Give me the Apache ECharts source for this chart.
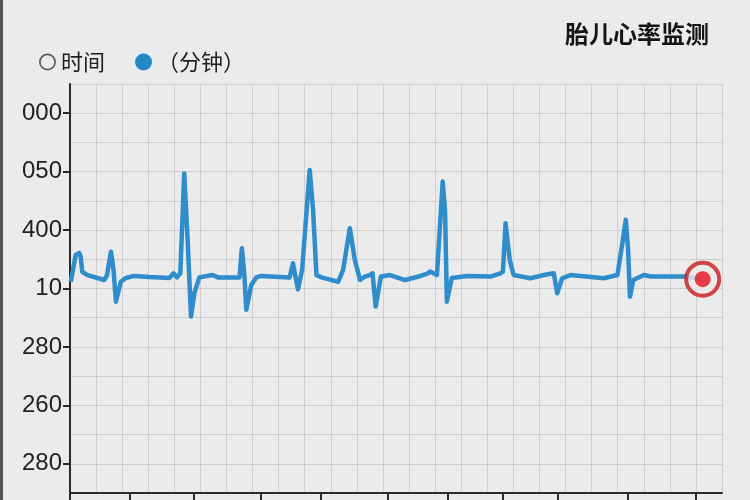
<!DOCTYPE html>
<html>
<head>
<meta charset="utf-8">
<script src="https://cdn.jsdelivr.net/npm/echarts@6/dist/echarts.min.js"></script>
<style>
html,body{margin:0;padding:0;background:#ebebeb;}
#c{width:750px;height:500px;}
</style>
</head>
<body>
<div id="c"></div>
<script>
// ECG trace (time units, signal units)
const ecgTime = [0.03,0.22,0.35,0.41,0.47,0.67,1.05,1.31,1.42,1.57,1.67,1.76,1.95,2.14,2.46,3.04,
  3.81,3.97,4.10,4.23,4.38,4.51,4.64,4.77,4.96,5.47,5.67,6.50,6.59,6.69,6.76,6.95,7.14,7.33,
  8.42,8.55,8.74,8.90,9.19,9.32,9.45,9.64,10.28,10.47,10.73,10.92,11.12,11.31,11.50,11.60,11.72,
  11.92,12.27,12.85,13.36,13.73,13.81,14.07,14.29,14.38,14.45,14.64,15.22,16.12,16.50,16.60,16.70,
  16.86,17.01,17.65,18.17,18.55,18.68,18.87,19.19,20.47,20.99,21.18,21.31,21.40,21.47,21.60,22.01,
  22.27,23.55,24.26];
const ecgValue = [7.23,8.15,8.22,8.09,7.57,7.46,7.36,7.29,7.46,8.26,7.63,6.55,7.23,7.36,7.43,7.39,
  7.36,7.52,7.38,7.52,10.94,8.66,6.04,6.85,7.38,7.46,7.38,7.38,8.38,7.41,6.27,7.12,7.38,7.43,
  7.38,7.86,6.97,7.63,11.06,9.69,7.46,7.38,7.23,7.63,9.06,7.98,7.29,7.41,7.46,7.52,6.38,
  7.41,7.46,7.29,7.41,7.52,7.58,7.46,10.66,9.69,6.55,7.36,7.43,7.41,7.52,7.58,9.23,
  7.98,7.46,7.35,7.46,7.52,6.84,7.35,7.46,7.35,7.46,8.55,9.35,8.32,6.72,7.29,7.46,
  7.41,7.41,7.32];
const markerPoint = [24.26, 7.32];
const xTickValues = [0, 2.3, 4.73, 7.3, 9.6, 12.2, 14.5, 16.6, 18.7, 21.4, 24.0];
const yTickValues = [1, 3, 5, 7, 9, 11, 13];
const yTickLabels = ['280', '260', '280', '10', '400', '050', '000'];
const titleText = '胎儿心率监测';
const legendNames = ['时间', '（分钟）'];

const lineData = ecgTime.map((t, i) => [t, ecgValue[i]]);
const chart = echarts.init(document.getElementById('c'));
const font = "'Noto Sans CJK SC','Noto Sans',sans-serif";
const ringPath = 'path://M0,-10A10,10,0,1,1,0,10A10,10,0,1,1,0,-10ZM0,-8A8,8,0,1,0,0,8A8,8,0,1,0,0,-8Z';
const gridLine = { show: true, lineStyle: { color: '#cfcfcf', width: 1 } };
chart.setOption({
  backgroundColor: '#ebebeb',
  animation: false,
  textStyle: { fontFamily: font },
  title: {
    text: titleText, right: 36, top: 17,
    textStyle: { fontSize: 24, fontWeight: 'bold', color: '#151515', fontFamily: font }
  },
  legend: {
    left: 34, top: 46, itemWidth: 17, itemHeight: 17, itemGap: 30,
    textStyle: { fontSize: 22, color: '#1e1e1e', fontFamily: font },
    data: [
      { name: legendNames[0], icon: ringPath, itemStyle: { color: '#3a3a3a', borderWidth: 0 } },
      { name: legendNames[1], icon: 'circle', itemStyle: { color: '#2488c8' } }
    ]
  },
  graphic: [{ type: 'rect', left: 0, top: 0, shape: { width: 3, height: 500 }, style: { fill: '#555' } }],
  grid: { left: 70, right: 28, top: 84, bottom: 7 },
  xAxis: [{
    type: 'value', min: 0, max: 25, interval: 1,
    axisLine: { show: true, lineStyle: { color: '#2a2a2a', width: 2 } },
    axisTick: { show: true, customValues: xTickValues, length: 8, lineStyle: { color: '#2a2a2a', width: 2 } },
    axisLabel: { show: false },
    splitLine: { show: false }
  }, {
    type: 'value', min: 0, max: 25, interval: 1, position: 'bottom',
    axisLine: { show: false }, axisTick: { show: false }, axisLabel: { show: false },
    splitLine: gridLine
  }],
  yAxis: [{
    type: 'value', min: 0, max: 14, interval: 1,
    axisLine: { show: true, lineStyle: { color: '#2a2a2a', width: 2 } },
    axisTick: { show: true, customValues: yTickValues, length: 7, lineStyle: { color: '#2a2a2a', width: 2 } },
    axisLabel: {
      show: true, customValues: yTickValues, margin: 8,
      fontSize: 24, color: '#222', fontFamily: "'Liberation Sans','Noto Sans',sans-serif",
      formatter: v => yTickLabels[yTickValues.indexOf(Math.round(v))] || ''
    },
    splitLine: { show: false },
    z: 3
  }, {
    type: 'value', min: 0, max: 14, interval: 1, position: 'left',
    axisLine: { show: false }, axisTick: { show: false }, axisLabel: { show: false },
    splitLine: gridLine
  }],
  series: [
    {
      name: legendNames[1], type: 'line', data: lineData, showSymbol: false, symbol: 'none',
      lineStyle: { color: '#2e8dca', width: 4.5, join: 'round' }, itemStyle: { color: '#2488c8' }, z: 3
    },
    {
      name: legendNames[0], type: 'scatter', data: [markerPoint], symbolSize: 33,
      itemStyle: { color: '#eeeaea', borderColor: '#c81a1a', borderWidth: 4 }, z: 4
    },
    {
      name: 'marker', type: 'scatter', data: [markerPoint], symbolSize: 16,
      itemStyle: { color: '#e5101a' }, z: 5
    }
  ]
});
</script>
</body>
</html>
